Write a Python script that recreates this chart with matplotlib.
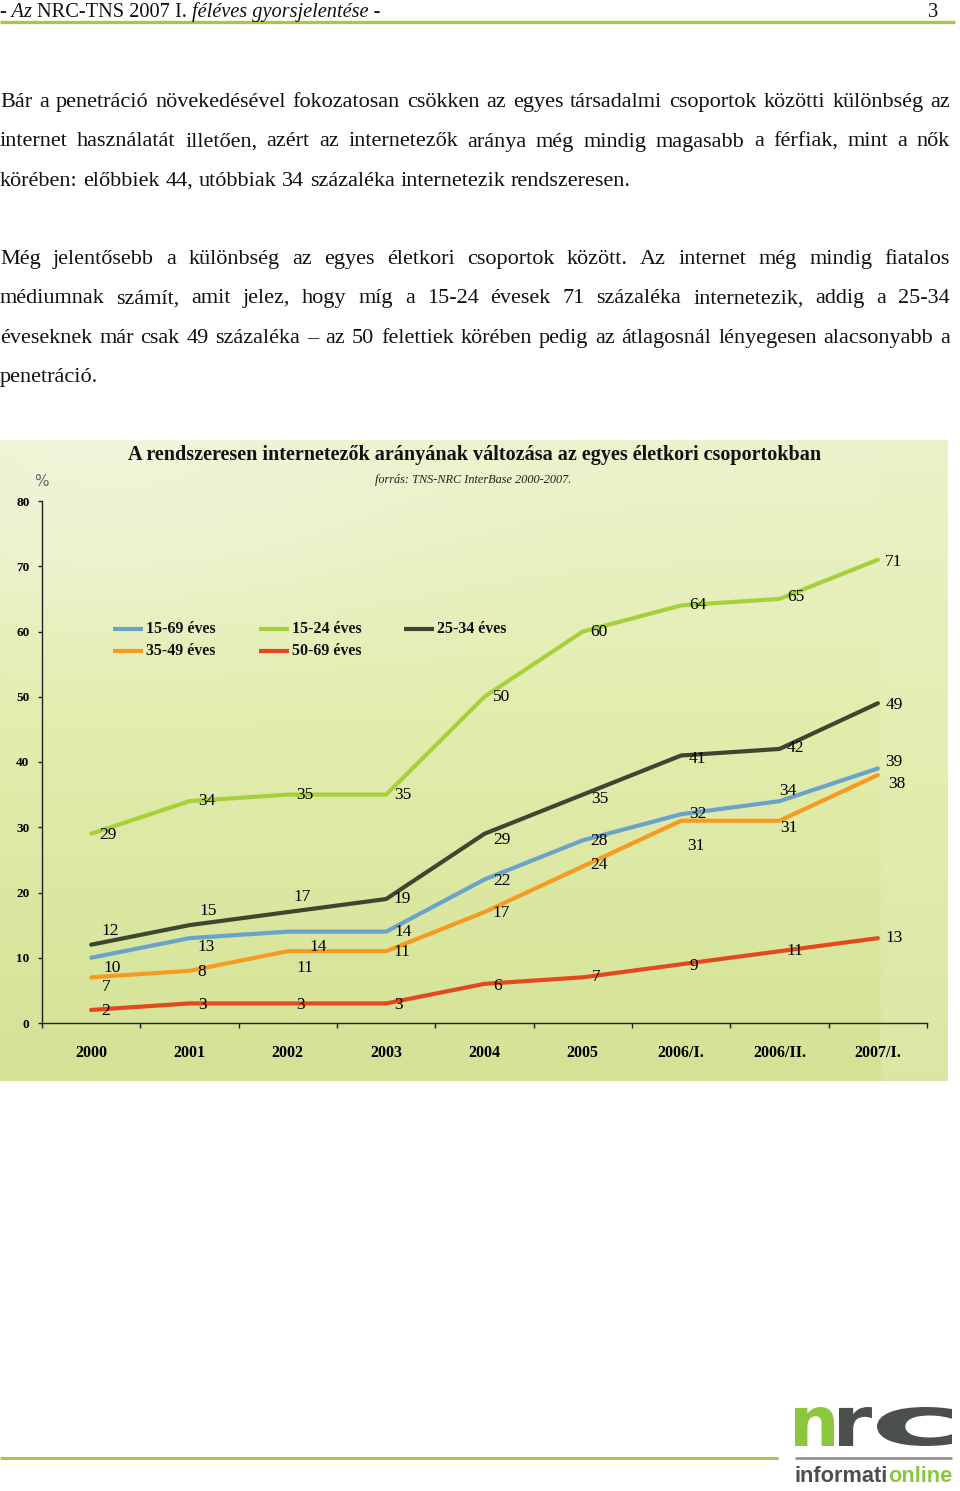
import numpy as np
import matplotlib.pyplot as plt
from matplotlib.font_manager import FontProperties
from matplotlib.textpath import TextPath
from matplotlib.patches import PathPatch
from matplotlib.transforms import Affine2D

W, H = 960, 1491

# chart data
periods = ['2000', '2001', '2002', '2003', '2004', '2005', '2006/I.', '2006/II.', '2007/I.']
age_15_69 = [10, 13, 14, 14, 22, 28, 32, 34, 39]
age_15_24 = [29, 34, 35, 35, 50, 60, 64, 65, 71]
age_25_34 = [12, 15, 17, 19, 29, 35, 41, 42, 49]
age_35_49 = [7, 8, 11, 11, 17, 24, 31, 31, 38]
age_50_69 = [2, 3, 3, 3, 6, 7, 9, 11, 13]
names = ['15-69 éves', '15-24 éves', '25-34 éves', '35-49 éves', '50-69 éves']
series = [age_15_69, age_15_24, age_25_34, age_35_49, age_50_69]

title = 'A rendszeresen internetezők arányának változása az egyes életkori csoportokban'
source = 'forrás: TNS-NRC InterBase 2000-2007.'

para1 = ['Bár a penetráció növekedésével fokozatosan csökken az egyes társadalmi csoportok közötti különbség az',
         'internet használatát illetően, azért az internetezők aránya még mindig magasabb a férfiak, mint a nők',
         'körében: előbbiek 44, utóbbiak 34 százaléka internetezik rendszeresen.']
para2 = ['Még jelentősebb a különbség az egyes életkori csoportok között. Az internet még mindig fiatalos',
         'médiumnak számít, amit jelez, hogy míg a 15-24 évesek 71 százaléka internetezik, addig a 25-34',
         'éveseknek már csak 49 százaléka – az 50 felettiek körében pedig az átlagosnál lényegesen alacsonyabb a',
         'penetráció.']

# styling
colors = ['#6ba2ca', '#a6d03c', '#3c4631', '#f59b22', '#e4481f']
# label offsets in pixels (right, down)
offsets = [
    [(21, 10), (17, 9), (30, 15), (17, 0), (17, 2), (16, 1), (17, 0), (8, -10), (16, -7)],
    [(17, 1), (17, 0), (17, 0), (17, 0), (17, 0), (16, 0), (17, 0), (16, -2), (16, 2)],
    [(19, -14), (19, -14), (14, -15), (16, 0), (17, 6), (17, 4), (16, 4), (16, -1), (16, 2)],
    [(15, 10), (12, 1), (17, 17), (16, 1), (17, 1), (16, -1), (15, 25), (9, 7), (19, 9)],
    [(14, 1), (13, 2), (13, 2), (12, 2), (13, 2), (13, 0), (13, 2), (15, 0), (16, 0)],
]
legend_pos = [(113, 629), (259, 629), (404, 629), (113, 651), (259, 651)]
serif = 'Liberation Serif'
green_rule = '#a3c84a'

fig = plt.figure(figsize=(W / 100, H / 100), dpi=100)
page = fig.add_axes([0, 0, 1, 1], zorder=0)
r = fig.canvas.get_renderer()


def set_page():
    page.set_xlim(0, W)
    page.set_ylim(H, 0)
    page.axis('off')


set_page()


def width(t):
    return t.get_window_extent(r).width


def fit(s, target, **kw):
    t = page.text(0, 0, s, fontsize=20, **kw)
    w = width(t)
    t.remove()
    return 20 * target / w


def space_w(size, **kw):
    a = page.text(0, 0, 'a a', fontsize=size, **kw)
    b = page.text(0, 0, 'aa', fontsize=size, **kw)
    w = width(a) - width(b)
    a.remove()
    b.remove()
    return w


def text_line(line, y, size, justify, x0=0, x1=950):
    words = line.split()
    ts = [page.text(0, y, w, fontsize=size, family=serif, va='baseline', color='#111') for w in words]
    ws = [width(t) for t in ts]
    if justify:
        gap = (x1 - x0 - sum(ws)) / (len(words) - 1)
    else:
        gap = space_w(size, family=serif)
    x = x0
    for t, w in zip(ts, ws):
        t.set_x(x)
        x += w + gap


def runs(x, y, parts, size, **kw):
    for s, style, col in parts:
        t = page.text(x, y, s, fontsize=size, style=style, color=col, va='baseline', **kw)
        x += width(t)
    return x


# header
hsize = fit('- Az NRC-TNS 2007 I. féléves gyorsjelentése -', 376, family=serif, style='italic')
sp = space_w(hsize, family=serif)
x = runs(0, 17, [('- Az', 'italic', '#111')], hsize, family=serif)
x = runs(x + sp, 17, [('NRC-TNS 2007 I.', 'normal', '#111')], hsize, family=serif)
runs(x + sp, 17, [('féléves gyorsjelentése -', 'italic', '#111')], hsize, family=serif)
page.text(938, 17, '3', fontsize=hsize, family=serif, ha='right', va='baseline', color='#111')
page.plot([0, 955], [21.5, 21.5], color=green_rule, lw=2.4, solid_capstyle='butt')

# body text
bsize = fit(para1[2], 633, family=serif)
for i, line in enumerate(para1):
    text_line(line, 107 + i * 39.5, bsize, i < len(para1) - 1)
for i, line in enumerate(para2):
    text_line(line, 264 + i * 39.3, bsize, i < len(para2) - 1)

# chart background
ny, nx = 160, 240
yy, xx = np.mgrid[0:1:ny * 1j, 0:1:nx * 1j]
top = np.array([236, 242, 204]) / 255
mid = np.array([226, 237, 172]) / 255
bot = np.array([212, 226, 150]) / 255
t = yy[..., None]
img = np.where(t < 0.45, top + (mid - top) * (t / 0.45), mid + (bot - mid) * ((t - 0.45) / 0.55))
glow = np.exp(-((xx - 0.12) ** 2 / 0.10 + (yy - 0.02) ** 2 / 0.06))[..., None]
img = img * (1 - 0.6 * glow) + np.array([244, 246, 226]) / 255 * 0.6 * glow
band = ((xx > 0.93) * 0.35)[..., None]
img = img * (1 - band) + np.array([232, 240, 190]) / 255 * band
page.imshow(img, extent=(0, 948, 1081, 440), aspect='auto', interpolation='bilinear', zorder=0)
set_page()

# chart title
tsize = fit(title, 695, family=serif, fontweight='bold')
page.text(475, 460, title, fontsize=tsize, family=serif, fontweight='bold', ha='center', va='baseline', color='#111')
ssize = fit(source, 196, family=serif, style='italic')
page.text(473, 483, source, fontsize=ssize, family=serif, style='italic', ha='center', va='baseline', color='#222')
page.text(41, 481, '%', fontsize=11, color='#666', ha='center', va='center')

# legend
for name, col, (lx, ly) in zip(names, colors, legend_pos):
    page.plot([lx, lx + 30], [ly, ly], color=col, lw=3, solid_capstyle='butt')
    page.text(lx + 33, ly, name, fontsize=11.5, family=serif, fontweight='bold', va='center', color='#111')

# chart
ax = fig.add_axes([42 / W, 1 - 1023 / H, 885 / W, 522 / H], zorder=1)
ax.patch.set_visible(False)
xs = np.arange(len(periods))
for vals, col, offs in zip(series, colors, offsets):
    ax.plot(xs, vals, color=col, lw=3, solid_capstyle='round', solid_joinstyle='round', clip_on=False)
    for xi, v, (dx, dy) in zip(xs, vals, offs):
        ax.annotate(str(v), (xi, v), xytext=(dx, -dy), textcoords='offset pixels',
                    ha='center', va='center', fontsize=12.5, family=serif, color='#000')

ax.set_xlim(-0.5, len(periods) - 0.5)
ax.set_ylim(0, 80)
for s in ['top', 'right']:
    ax.spines[s].set_visible(False)
for s in ['left', 'bottom']:
    ax.spines[s].set_color('#222')
    ax.spines[s].set_linewidth(1)
ax.set_yticks(np.arange(0, 81, 10))
ax.set_yticklabels([str(v) for v in range(0, 81, 10)], family=serif, fontweight='bold', fontsize=9.5)
ax.tick_params(axis='y', direction='out', length=3, width=1, color='#222', pad=6)
ax.set_xticks(xs)
ax.set_xticklabels(periods, family=serif, fontweight='bold', fontsize=11.5)
ax.set_xticks(np.arange(-0.5, len(periods), 1), minor=True)
ax.tick_params(axis='x', which='major', length=0, pad=16)
ax.tick_params(axis='x', which='minor', direction='out', length=3.3, width=1, color='#222')

# footer and logo
page.plot([0, 778], [1458, 1458], color=green_rule, lw=2.2, solid_capstyle='butt')
page.plot([795, 952], [1458, 1458], color='#8a8a8a', lw=1.8, solid_capstyle='butt')
fp = FontProperties(family='DejaVu Sans', weight='bold')
for ch, x0, x1, col in [('n', 795, 834, '#8cc63f'), ('r', 839, 872, '#4b504c'), ('c', 877, 952, '#4b504c')]:
    tp = TextPath((0, 0), ch, size=100, prop=fp)
    bb = tp.get_extents()
    tr = Affine2D().translate(-bb.x0, -bb.y0).scale((x1 - x0) / bb.width, -39 / bb.height).translate(x0, 1446)
    page.add_patch(PathPatch(tr.transform_path(tp), color=col, lw=0))
logo_kw = dict(family='Liberation Sans', fontweight='bold', va='baseline')
lsize = fit('informationline', 157, family='Liberation Sans', fontweight='bold')
t_end = page.text(952, 1482, 'online', fontsize=lsize, color='#8cc63f', ha='right', **logo_kw)
page.text(952 - width(t_end), 1482, 'informati', fontsize=lsize, color='#4b504c', ha='right', **logo_kw)

set_page()
fig.savefig('out.png', dpi=100)
